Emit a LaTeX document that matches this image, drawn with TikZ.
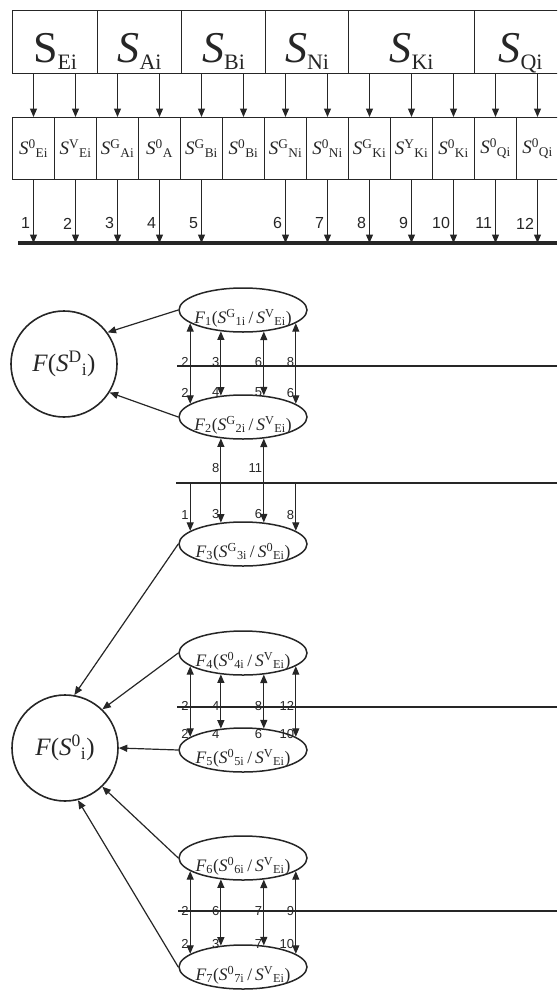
\documentclass[tikz,border=0pt]{standalone}
\usepackage{fontspec}
\setmainfont{Liberation Serif}
\newfontfamily\numfont{Liberation Sans}
\usetikzlibrary{arrows.meta,shapes.geometric}
\definecolor{ink}{HTML}{262626}
\newcommand{\TopLab}[2]{{\fontsize{44}{44}\selectfont #1\raisebox{-7pt}{\fontsize{22}{22}\selectfont #2}}}
\newcommand{\SL}[2]{{\fontsize{19}{19}\selectfont\textit{S}\textsuperscript{#1}\textsubscript{#2}}}
\newcommand{\FL}[5]{{\fontsize{17.5}{17.5}\selectfont\textit{F}\textsubscript{#1}(\textit{S}\textsuperscript{#2}\textsubscript{#3}\,/\,\textit{S}\textsuperscript{#4}\textsubscript{#5})}}
\newcommand{\CL}[1]{{\fontsize{25}{25}\selectfont\textit{F}(\textit{S}\textsuperscript{#1}\textsubscript{i})}}
\begin{document}
\begin{tikzpicture}[x=1pt,y=-1pt,>={Triangle[length=8.5pt,width=7pt]},
  every node/.style={text=ink},
  topbox/.style={draw=ink,line width=1.1pt,minimum height=63pt,inner sep=0pt,anchor=north west,text height=48pt,text depth=7pt},
  sbox/.style={draw=ink,line width=1pt,minimum width=42pt,minimum height=62pt,inner sep=0pt,anchor=north west},
  arr/.style={draw=ink,line width=1.2pt,->},
  darr/.style={draw=ink,line width=1.2pt,<->},
  bar/.style={draw=ink,line width=3.2pt},
  rule/.style={draw=ink,line width=2.6pt},
  ell/.style={ellipse,draw=ink,line width=1.5pt,minimum width=128pt,minimum height=44pt,inner sep=0pt},
  circ/.style={circle,draw=ink,line width=1.6pt,minimum size=106pt,inner sep=0pt},
  elab/.style={yshift=-8pt,inner sep=0pt},
  num/.style={font=\numfont\fontsize{16}{16}\selectfont,inner sep=1pt,xshift=-2pt},
  snum/.style={font=\numfont\fontsize{13}{13}\selectfont,inner sep=1pt},
]
\useasboundingbox (0,0) rectangle (557,993);
\clip (0,0) rectangle (557,993);

% top row
\node[topbox,minimum width=85pt] (tE) at (12,10) {\TopLab{S}{Ei}};
\node[topbox,minimum width=84pt] (tA) at (97,10) {\TopLab{\textit{S}}{Ai}};
\node[topbox,minimum width=84pt] (tB) at (181,10) {\TopLab{\textit{S}}{Bi}};
\node[topbox,minimum width=83pt] (tN) at (265,10) {\TopLab{\textit{S}}{Ni}};
\node[topbox,minimum width=126pt] (tK) at (348,10) {\TopLab{\textit{S}}{Ki}};
\node[topbox,minimum width=92pt] (tQ) at (474,10) {\TopLab{\textit{S}}{Qi}};

% second row
\foreach \i/\p/\q in {1/0/Ei,2/V/Ei,3/G/Ai,4/0/A,5/G/Bi,6/0/Bi,7/G/Ni,8/0/Ni,9/G/Ki,10/Y/Ki,11/0/Ki,12/0/Qi,13/0/Qi}
  \node[sbox] (b\i) at ({12+42*(\i-1)},117) {\SL{\p}{\q}};

\foreach \t/\b in {tE/1,tE/2,tA/3,tA/4,tB/5,tB/6,tN/7,tN/8,tK/9,tK/10,tK/11,tQ/12,tQ/13}
  \draw[arr] (b\b.north |- \t.south) -- (b\b.north);

% line 0
\coordinate (L0a) at (18,243);
\coordinate (L0b) at (557,243);
\draw[bar] (L0a) -- (L0b);
\foreach \b/\n in {1/1,2/2,3/3,4/4,5/5,7/6,8/7,9/8,10/9,11/10,12/11,13/12}
  \draw[arr] (b\b.south) -- (b\b.south |- L0a) node[num,left,pos=0.69] {\n};

% lower rules
\coordinate (L1a) at (177,366); \coordinate (L1b) at (557,366);
\coordinate (L2a) at (176,483); \coordinate (L2b) at (557,483);
\coordinate (L3a) at (177,707); \coordinate (L3b) at (557,707);
\coordinate (L4a) at (178,911); \coordinate (L4b) at (557,911);
\draw[rule] (L1a) -- (L1b);
\draw[rule] (L2a) -- (L2b);
\draw[rule] (L3a) -- (L3b);
\draw[rule] (L4a) -- (L4b);

% ellipses
\node[ell,label={[elab]center:\FL{1}{G}{1i}{V}{Ei}}] (e1) at (243,310) {};
\node[ell,label={[elab]center:\FL{2}{G}{2i}{V}{Ei}}] (e2) at (243,417) {};
\node[ell,label={[elab]center:\FL{3}{G}{3i}{0}{Ei}}] (e3) at (243,544) {};
\node[ell,label={[elab]center:\FL{4}{0}{4i}{V}{Ei}}] (e4) at (243,653) {};
\node[ell,label={[elab]center:\FL{5}{0}{5i}{V}{Ei}}] (e5) at (243,750) {};
\node[ell,label={[elab]center:\FL{6}{0}{6i}{V}{Ei}}] (e6) at (243,858) {};
\node[ell,label={[elab]center:\FL{7}{0}{7i}{V}{Ei}}] (e7) at (243,967) {};

% circles
\node[circ] (cD) at (64,364) {\CL{D}};
\node[circ] (c0) at (65,748) {\CL{0}};

\draw[arr] (e1.west) -- (cD.36);
\draw[arr] (e2.west) -- (cD.-32);
\draw[arr] (e3.west) -- (c0.80);
\draw[arr] (e4.west) -- (c0.46);
\draw[arr] (e5.west) -- (c0.east);
\draw[arr] (e6.west) -- (c0.-46);
\draw[arr] (e7.west) -- (c0.-76);

% E1 - E2
\draw[darr] (e1.-166.9) -- (e2.166.9) node[snum,left,pos=0.48]{2} node[snum,left,pos=0.86]{2};
\draw[darr] (e1.-136.8) -- (e2.136.8) node[snum,left,pos=0.48]{3} node[snum,left,pos=0.95]{4};
\draw[darr] (e1.-46.3) -- (e2.46.3) node[snum,left,pos=0.48]{6} node[snum,left,pos=0.95]{5};
\draw[darr] (e1.-14.6) -- (e2.14.6) node[snum,left,pos=0.48]{8} node[snum,left,pos=0.86]{6};

% E2 - E3
\draw[darr] (e2.-136.8) -- (e3.136.8) node[snum,left,pos=0.354]{8} node[snum,left,pos=0.9]{3};
\draw[darr] (e2.-46.3) -- (e3.46.3) node[snum,left,pos=0.354]{11} node[snum,left,pos=0.9]{6};
\draw[arr] (e3.166.9 |- L2a) -- (e3.166.9) node[snum,left,pos=0.66]{1};
\draw[arr] (e3.14.6 |- L2a) -- (e3.14.6) node[snum,left,pos=0.66]{8};

% E4 - E5
\draw[darr] (e4.-166.9) -- (e5.166.9) node[snum,left,pos=0.56]{2} node[snum,left,pos=0.96]{2};
\draw[darr] (e4.-136.8) -- (e5.136.8) node[snum,left,pos=0.58]{4} node[snum,left,pos=1.1]{4};
\draw[darr] (e4.-46.3) -- (e5.46.3) node[snum,left,pos=0.58]{8} node[snum,left,pos=1.1]{6};
\draw[darr] (e4.-14.6) -- (e5.14.6) node[snum,left,pos=0.56]{12} node[snum,left,pos=0.96]{10};

% E6 - E7
\draw[darr] (e6.-166.9) -- (e7.166.9) node[snum,left,pos=0.48]{2} node[snum,left,pos=0.885]{2};
\draw[darr] (e6.-136.8) -- (e7.136.8) node[snum,left,pos=0.478]{6} node[snum,left,pos=0.98]{3};
\draw[darr] (e6.-46.3) -- (e7.46.3) node[snum,left,pos=0.478]{7} node[snum,left,pos=0.98]{7};
\draw[darr] (e6.-14.6) -- (e7.14.6) node[snum,left,pos=0.48]{9} node[snum,left,pos=0.885]{10};
\end{tikzpicture}
\end{document}
